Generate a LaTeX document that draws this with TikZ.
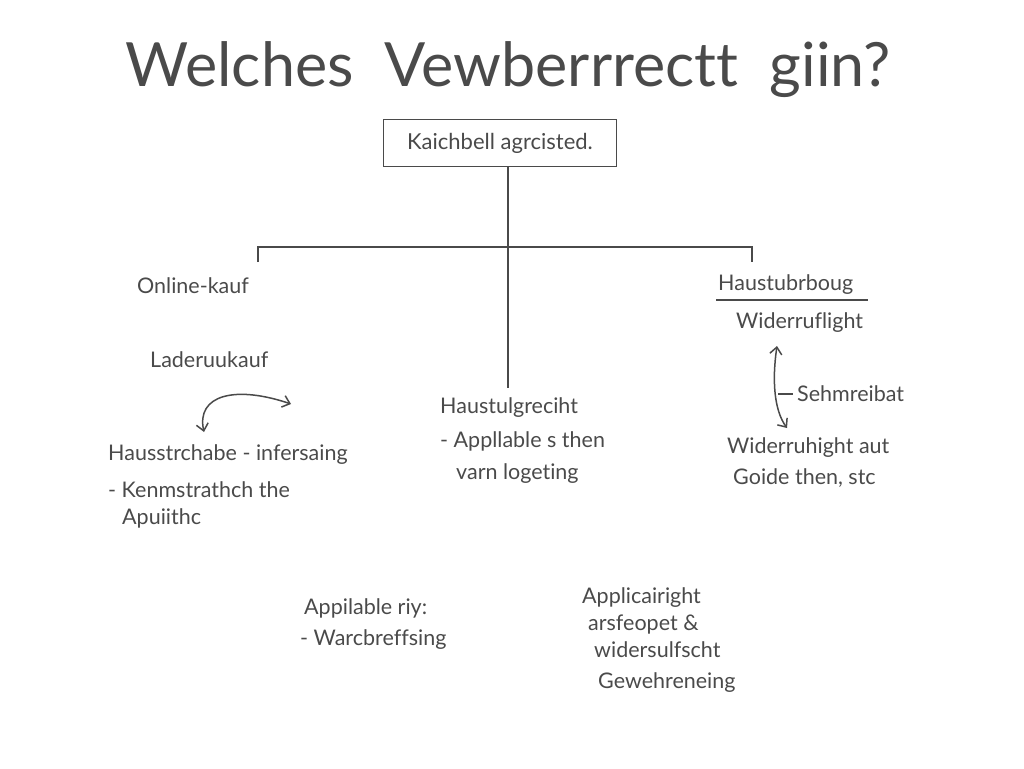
\documentclass[tikz,border=0pt]{standalone}
\usepackage{fontspec}
\setmainfont{Lato}[Ligatures=NoCommon]
\usetikzlibrary{positioning,arrows.meta}
\definecolor{pencil}{HTML}{4A4A4A}

\begin{document}
\begin{tikzpicture}
  [x=1pt, y=-1pt,
   pencil line/.style={draw=pencil, line width=1.5pt},
   hand arrow/.style={pencil line, {Straight Barb[length=7pt,width=12pt]}-{Straight Barb[length=7pt,width=12pt]}},
   note/.style={text=pencil, font=\fontsize{21.5}{26}\selectfont, inner sep=0pt, anchor=west},
   rule box/.style={pencil line, minimum width=233pt, minimum height=47pt, font=\fontsize{22}{26}\selectfont, text=pencil}]
  \useasboundingbox (0,0) rectangle (1024,768);

  \node[text=pencil, font=\fontsize{61}{66}\selectfont] (title) at (508,70) {Welches\ \ Vewberrrectt\ \ giin?};
  \node[rule box] (rule) at (500,143) {Kaichbell agrcisted.};

  % tree lines
  \coordinate (stem) at (508,388);
  \coordinate (junction) at (508,247);
  \coordinate (branchL) at (258,262);
  \coordinate (branchR) at (752,262);
  \draw[pencil line] (rule.south -| stem) -- (stem);
  \draw[pencil line] (branchL) |- (junction) -| (branchR);

  % left column
  \node[note] (online) at (137,286) {Online-kauf};
  \node[note] (laden) at (150,360) {Laderuukauf};
  \node[note] (hauss1) at (108,455) {Hausstrchabe - infersaing};
  \node[note] (hauss2) at (108,490) {- Kenmstrathch the};
  \node[note] (hauss3) at (122,518) {Apuiithc};
  \coordinate (loopA) at (204,432);
  \coordinate (loopB) at (291,404);
  \draw[hand arrow] (loopA) .. controls (196,395) and (235,385) .. (loopB);

  % middle column
  \node[note] (mid1) at (440,408) {Haustulgreciht};
  \node[note] (mid2) at (440,441) {- Appllable s then};
  \node[note] (mid3) at (456,474) {varn logeting};

  % right column
  \node[note] (hausR) at (718,285) {Haustubrboug};
  \draw[pencil line] (716,300) -- (868,300);
  \node[note] (wid1) at (736,323) {Widerruflight};
  \node[note] (sehm) at (797,394) {Sehmreibat};
  \node[note] (wid2) at (727,448) {Widerruhight aut};
  \node[note] (wid3) at (733,478) {Goide then, stc};
  \coordinate (upR) at (777,346);
  \coordinate (downR) at (787,428);
  \draw[hand arrow] (upR) .. controls (772,380) and (774,410) .. (downR);
  \draw[pencil line] (778,394) -- ([xshift=-4pt]sehm.west);

  % bottom notes
  \node[note] (appl1) at (304,608) {Appilable riy:};
  \node[note] (appl2) at (300,640) {- Warcbreffsing};
  \node[note] (ar1) at (582,598) {Applicairight};
  \node[note] (ar2) at (588,625) {arsfeopet \&};
  \node[note] (ar3) at (594,650) {widersulfscht};
  \node[note] (ar4) at (598,683) {Gewehreneing};
\end{tikzpicture}
\end{document}
